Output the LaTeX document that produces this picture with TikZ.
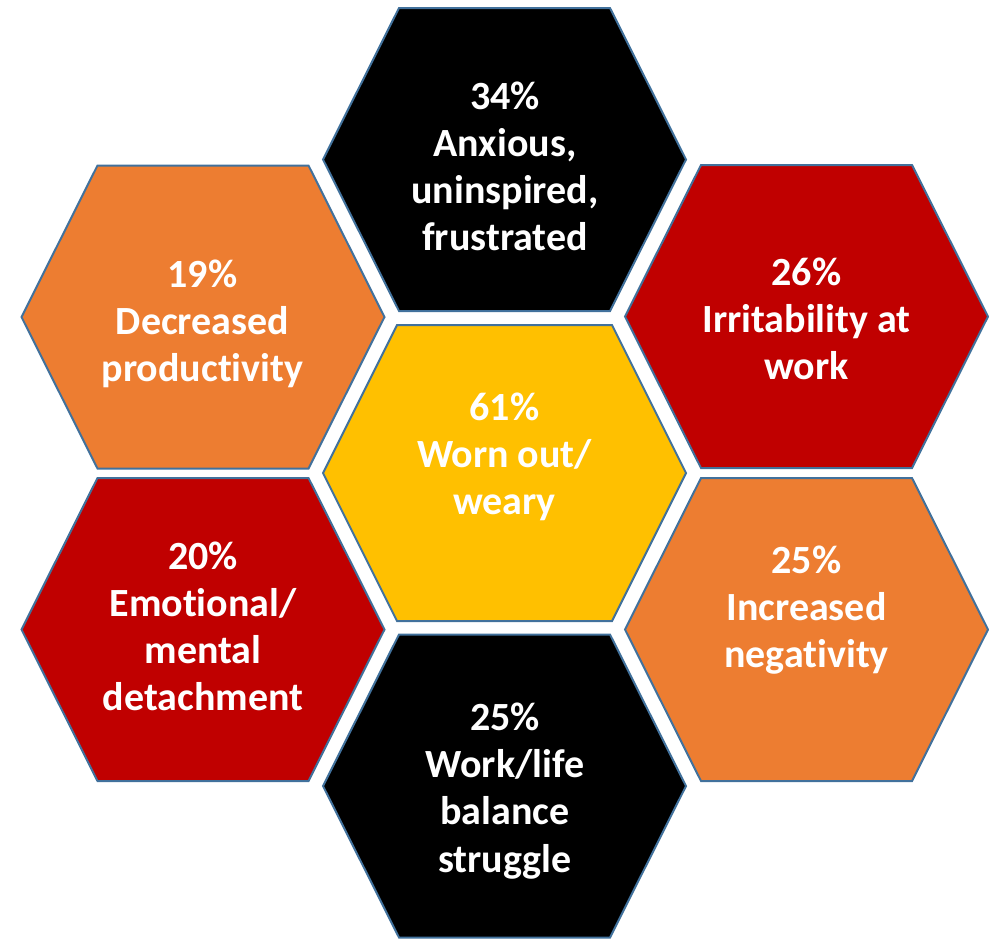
\documentclass[tikz,border=0pt]{standalone}
\usepackage{fontspec}
\setmainfont{Carlito}[Ligatures=NoCommon]

\definecolor{cellorange}{HTML}{ED7D31}
\definecolor{cellred}{HTML}{C00000}
\definecolor{cellyellow}{HTML}{FFC000}
\definecolor{cellblack}{HTML}{000000}
\definecolor{cellborder}{HTML}{41719C}

\tikzset{
  hexcell/.style={draw=cellborder, line width=1.5pt, line join=miter},
  hexlabel/.style={text=white, align=center, inner sep=0pt,
    font=\bfseries\fontsize{30}{35.3}\selectfont}
}

\begin{document}
\begin{tikzpicture}[x=0.75pt, y=-0.75pt]
            \useasboundingbox (0, 0) rectangle (989, 940);

            % outer ring of cells
            \foreach \cx/\cy/\cellfill in {504.5/159.5/cellblack, 203/317/cellorange, 806.5/316.5/cellred,
                                            203/629.5/cellred, 806.5/629.5/cellorange, 504.5/786/cellblack}
                \draw[hexcell, fill=\cellfill, shift={(\cx, \cy)}]
                    (-181.5, 0) -- (-105.5, -151.5) -- (105.5, -151.5) -- (181.5, 0)
                    -- (105.5, 151.5) -- (-105.5, 151.5) -- cycle;

            % middle cell
            \draw[hexcell, fill=cellyellow] (323, 473) -- (397, 325) -- (612, 325) -- (686, 473) -- (612, 621) -- (397, 621) -- cycle;

            \node[hexlabel] (anxious) at (505, 166) {34\%\\Anxious,\\uninspired,\\frustrated};
            \node[hexlabel] (productivity) at (202.5, 323.5) {19\%\\Decreased\\productivity};
            \node[hexlabel] (irritability) at (806.5, 319) {26\%\\Irritability at\\work};
            \node[hexlabel] (worn) at (504.5, 457) {61\%\\Worn out/\\weary};
            \node[hexlabel] (detachment) at (203, 626) {20\%\\Emotional/\\mental\\detachment};
            \node[hexlabel] (negativity) at (806.5, 610) {25\%\\Increased\\negativity};
            \node[hexlabel] (balance) at (505, 791) {25\%\\Work/life\\balance\\struggle};
        \end{tikzpicture}
\end{document}
